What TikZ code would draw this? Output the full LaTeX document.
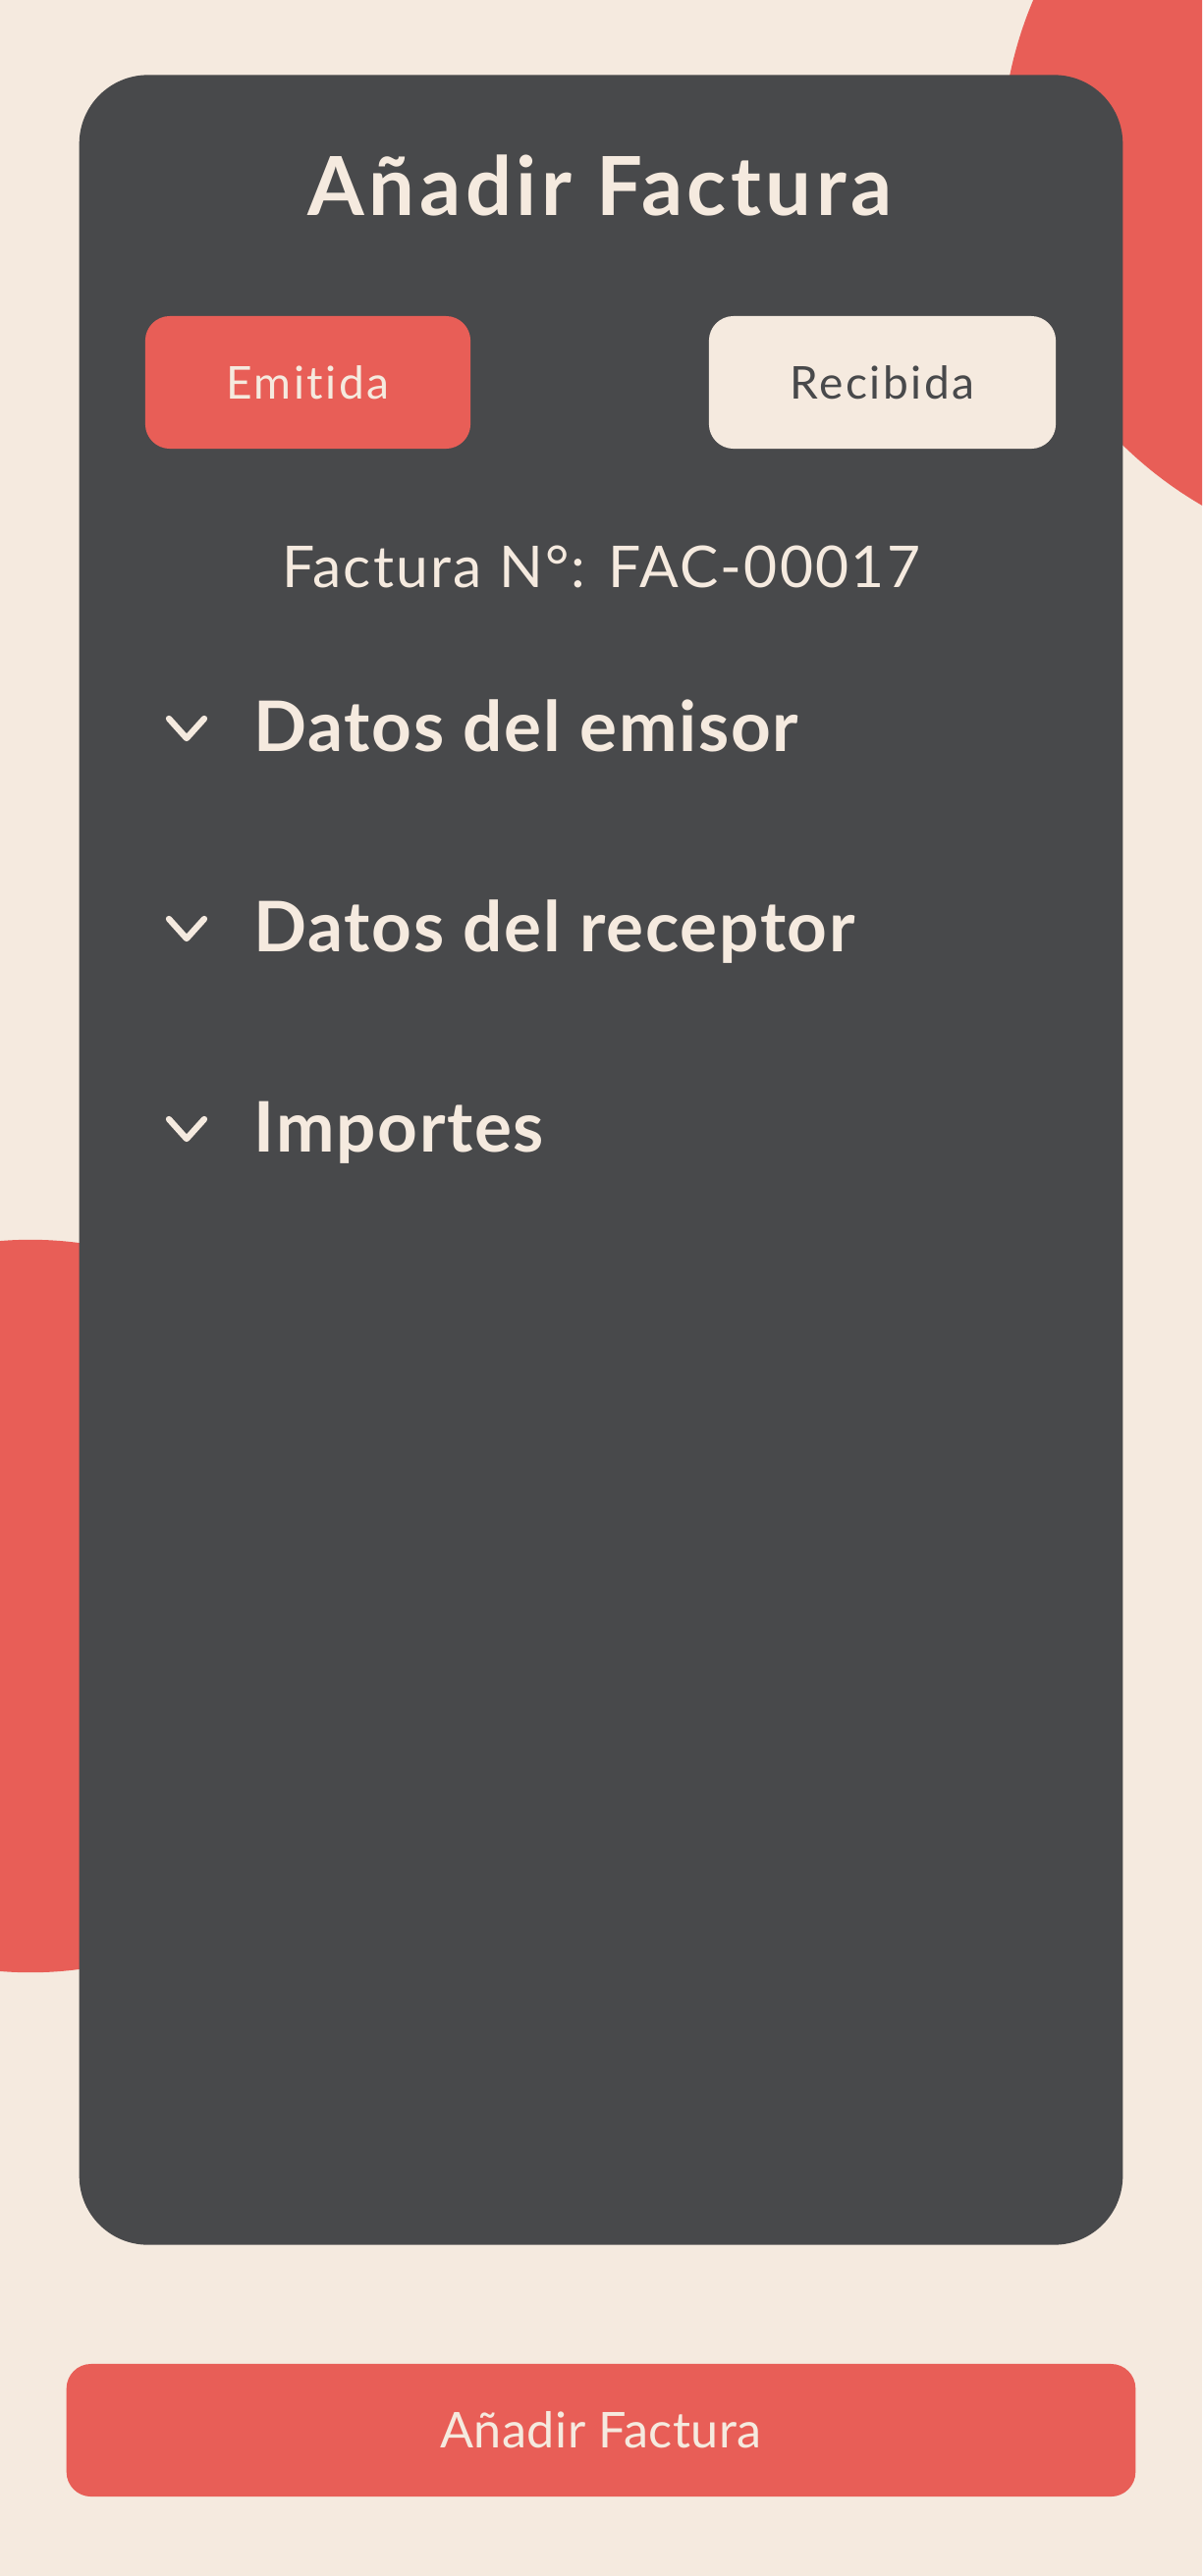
\documentclass[tikz,border=0pt]{standalone}
\usepackage{fontspec}
\setmainfont{Lato}[Ligatures=CommonOff]
\usepackage{tikz}
\usetikzlibrary{shapes,arrows,positioning}
\definecolor{appCream}{RGB}{245,234,223}
\definecolor{appRed}{RGB}{232,94,87}
\definecolor{appDark}{RGB}{72,73,75}

\begin{document}
\begin{tikzpicture}[x=0.01cm, y=-0.01cm]%
  \tikzset{btn/.style={rounded corners=0.25cm, minimum height=1.35cm, inner sep=0pt, font=\fontsize{13.1pt}{15pt}\selectfont\addfontfeature{LetterSpace=5.5}}}
  \tikzset{section/.style={anchor=base west, inner sep=0pt, text=appCream, font=\fontsize{20.2pt}{24pt}\selectfont\bfseries\addfontfeature{LetterSpace=2.5}}}
  \tikzset{chevron/.style={draw=appCream, line width=1.8pt, line cap=round, line join=round}}

  \useasboundingbox (0,0) rectangle (1224,2624);
  \clip (0,0) rectangle (1224,2624);
  \fill[appCream] (0,0) rectangle (1224,2624);
  \fill[appRed] (1430,160) circle[radius=4.1cm];
  \fill[appRed] (31,1636) circle[radius=3.73cm];

  \node[fill=appDark, rounded corners=0.7cm, minimum width=10.62cm, minimum height=22.09cm, inner sep=0pt] (card) at (612,1181.5) {};
  \node[anchor=base, inner sep=0pt, text=appCream, font=\fontsize{23.6pt}{28pt}\selectfont\bfseries\addfontfeature{LetterSpace=5.5}] (title) at (611,219) {Añadir Factura};

  \node[btn, fill=appRed, text=appCream, minimum width=3.31cm] (emitida) at (313.5,389.5) {Emitida};
  \node[btn, fill=appCream, text=appDark, minimum width=3.53cm] (recibida) at (898.5,389.5) {Recibida};

  \node[anchor=base, inner sep=0pt, text=appCream, font=\fontsize{16.7pt}{20pt}\selectfont\addfontfeature{LetterSpace=3.8}] (numero) at (612,598) {Factura N°: FAC-00017};

  % secciones plegables
  \node[section] (emisor) at (258,765) {Datos del emisor};
  \node[section] (receptor) at (258,969) {Datos del receptor};
  \node[section] (importes) at (258,1173) {Importes};
  \draw[chevron] (172,732) -- (190,752) -- (208,732);
  \draw[chevron] (172,936) -- (190,956) -- (208,936);
  \draw[chevron] (172,1140) -- (190,1160) -- (208,1140);

  \node[btn, fill=appRed, text=appCream, minimum width=10.88cm, font=\fontsize{14.3pt}{17pt}\selectfont\addfontfeature{LetterSpace=1}] (anadir) at (612,2475.5) {Añadir Factura};
\end{tikzpicture}
\end{document}
